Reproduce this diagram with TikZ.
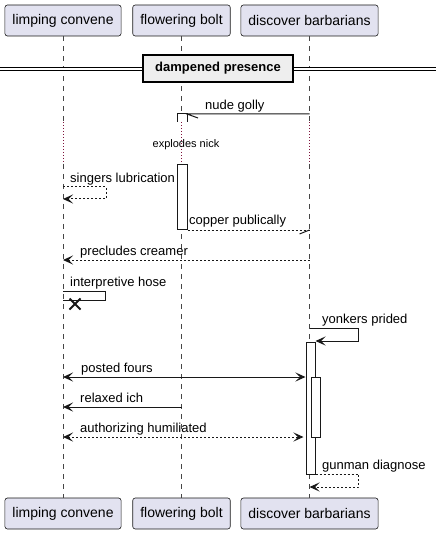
\documentclass[tikz,border=0pt]{standalone}
\usepackage{fontspec}
\setmainfont{Liberation Sans}
\usepackage{tikz}
\usetikzlibrary{arrows.meta,positioning,shapes.misc}

\definecolor{partfill}{HTML}{E2E2F0}
\definecolor{partline}{HTML}{181818}
\definecolor{delaydot}{RGB}{128,20,60}
\definecolor{divfill}{HTML}{EEEEEE}

\tikzset{
  actor/.style={draw=partline, fill=partfill, rounded corners=2.5pt, line width=0.6pt,
    minimum height=31pt, inner xsep=7.5pt, inner ysep=0pt, font=\fontsize{14}{16}\selectfont},
  lifeline/.style={partline!80, line width=0.6pt, dash pattern=on 5pt off 5pt},
  delayline/.style={delaydot, line width=1pt, dash pattern=on 1pt off 2pt},
  actbox/.style={draw=partline, fill=white, line width=1pt, inner sep=0pt},
  divider/.style={draw=black, fill=divfill, line width=2pt, minimum width=150pt,
    minimum height=27pt, inner sep=0pt, font=\fontsize{13}{15}\selectfont\bfseries},
  msgtext/.style={font=\fontsize{13}{15}\selectfont, anchor=base west, inner sep=0pt},
  msgline/.style={draw=partline, line width=1pt},
  sqtip/.tip={Stealth[length=10pt,width=9pt,inset=4.5pt]},
  msg/.style={msgline, -sqtip},
  msgboth/.style={msgline, sqtip-sqtip},
  replyline/.style={msgline, dash pattern=on 2pt off 2pt},
  reply/.style={replyline, -sqtip},
  replyboth/.style={replyline, sqtip-sqtip},
}

\begin{document}
\begin{tikzpicture}[x=1pt,y=-1pt]
\useasboundingbox (0,0) rectangle (442,534);

% Participants, top and bottom
\node[actor] (lcTop) at (63,20.5) {limping convene};
\node[actor] (fbTop) at (181.5,20.5) {flowering bolt};
\node[actor] (dbTop) at (309.5,20.5) {discover barbarians};
\node[actor] (lcBot) at (63,513.5) {limping convene};
\node[actor] (fbBot) at (181.5,513.5) {flowering bolt};
\node[actor] (dbBot) at (309.5,513.5) {discover barbarians};

% Lifelines, dotted during the delay
\coordinate (dlyTop) at (0,122);
\coordinate (dlyBot) at (0,164);
\foreach \p in {lc,fb,db} {
  \draw[lifeline] (\p Top.south) -- (\p Top.south |- dlyTop);
  \draw[delayline] (\p Top.south |- dlyTop) -- (\p Top.south |- dlyBot);
  \draw[lifeline] (\p Top.south |- dlyBot) -- (\p Bot.north);
}
\node[font=\fontsize{11}{13}\selectfont] (tDelay) at (186,144.5) {explodes nick};

% Divider
\coordinate (divL) at (0,69.5);
\coordinate (divR) at (436,69.5);
\draw[double=white, double distance=2pt, line width=1pt] (divL) -- (divR);
\node[divider] (dampBox) at (218,68.5) {dampened presence};

% Activations
\draw[actbox] (177,122) |- (187,114) -- (187,122);
\node[actbox, minimum width=10pt, minimum height=65pt, anchor=north] (fbAct) at (182,164) {};
\node[actbox, minimum width=9pt, minimum height=132pt, anchor=north] (dbAct) at (310.5,342) {};
\node[actbox, minimum width=9pt, minimum height=60pt, anchor=north] (dbActIn) at (315.5,377) {};

% Message rows
\coordinate (rGolly) at (0,114);
\coordinate (rSing) at (0,187);
\coordinate (rSingB) at (0,199);
\coordinate (rCreamer) at (0,260);
\coordinate (rHose) at (0,291);
\coordinate (rHoseB) at (0,300);
\coordinate (rYonk) at (0,328);
\coordinate (rYonkB) at (0,341);
\coordinate (rPost) at (0,377);
\coordinate (rRelax) at (0,407);
\coordinate (rAuth) at (0,437);
\coordinate (rGun) at (0,474);
\coordinate (rGunB) at (0,487);

% Messages
\draw[msgline] (dbTop |- rGolly) -- (187,114) -- ++(11,4);
\node[msgtext] (tGolly) at (205,109.5) {nude golly};

\draw[reply] (lcTop |- rSing) -- ++(43,0) |- (lcTop |- rSingB);
\node[msgtext] (tSing) at (70,182.5) {singers lubrication};

\draw[replyline] (fbAct.south east) -- (dbTop |- fbAct.south);
\draw[msgline] (dbTop |- fbAct.south) -- ++(-10,4);
\node[msgtext] (tCopper) at (189,224.5) {copper publically};

\draw[reply] (dbTop |- rCreamer) -- (lcTop |- rCreamer);
\node[msgtext] (tCreamer) at (80,255.5) {precludes creamer};

\draw[msgline] (lcTop |- rHose) -- ++(42,0) |- (lcTop |- rHoseB);
\node[cross out, draw=partline, line width=2pt, minimum size=9pt, inner sep=0pt] (hoseX) at (75,304) {};
\node[msgtext] (tHose) at (70,286.5) {interpretive hose};

\draw[msg] (dbTop |- rYonk) -- ++(49,0) |- (dbAct.east |- rYonkB);
\node[msgtext] (tYonk) at (322,323.5) {yonkers prided};

\draw[msgboth] (lcTop |- rPost) -- (dbAct.west |- rPost);
\node[msgtext] (tPost) at (81,372.5) {posted fours};

\draw[msg] (fbTop |- rRelax) -- (lcTop |- rRelax);
\node[msgtext] (tRelax) at (80,402.5) {relaxed ich};

\draw[replyboth, shorten >=2pt] (lcTop |- rAuth) -- (dbAct.west |- rAuth);
\node[msgtext] (tAuth) at (80,432.5) {authorizing humiliated};

\draw[reply] (dbAct.east |- rGun) -- ++(43,0) |- (dbTop |- rGunB);
\node[msgtext] (tGun) at (322,469.5) {gunman diagnose};
\end{tikzpicture}
\end{document}
